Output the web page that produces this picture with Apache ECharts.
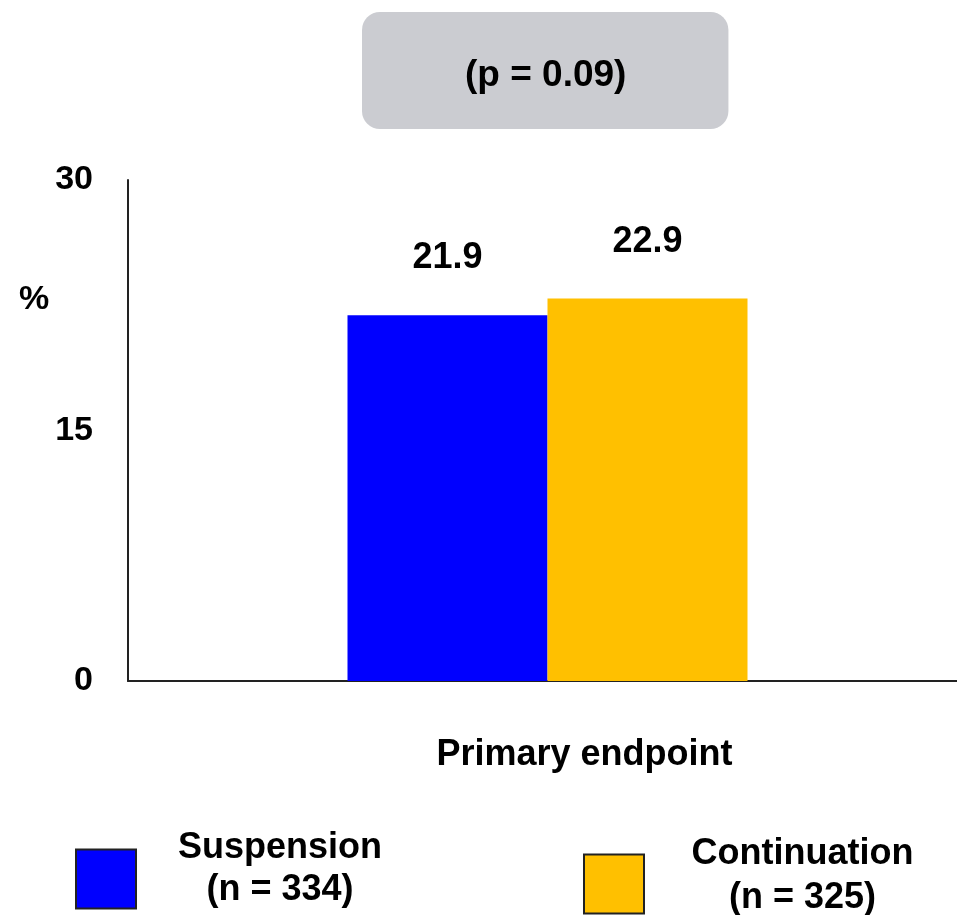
<!DOCTYPE html>
<html>
<head>
<meta charset="utf-8">
<script src="https://cdn.jsdelivr.net/npm/echarts@6/dist/echarts.min.js"></script>
<style>html,body{margin:0;padding:0;background:#fff}#c{width:957px;height:915px}</style>
</head>
<body>
<div id="c"></div>
<script>
var categories = ['Primary endpoint'];
var seriesNames = ['Suspension', 'Continuation'];
var seriesN = ['(n = 334)', '(n = 325)'];
var suspensionValues = [21.9];
var continuationValues = [22.9];
var yTicks = [0, 15, 30];
var pValueText = '(p = 0.09)';
var yUnit = '%';

var FONT = '"Liberation Sans", Arial, sans-serif';
var chart = echarts.init(document.getElementById('c'));
chart.setOption({
  animation: false,
  backgroundColor: '#fff',
  title: [
    {
      text: pValueText, left: 362, top: 12,
      backgroundColor: '#cbccd1', borderRadius: 18,
      padding: [45, 102, 35, 103],
      textStyle: {fontFamily: FONT, fontSize: 37, fontWeight: 'bold', color: '#000'}
    },
    {
      text: yUnit, left: 19, top: 283, padding: 0,
      textStyle: {fontFamily: FONT, fontSize: 34, fontWeight: 'bold', color: '#000'}
    }
  ],
  grid: {left: 128, width: 839, top: 180, bottom: 234, containLabel: false, outerBoundsMode: 'none'},
  legend: [
    {
      data: [seriesNames[0]], left: 75, top: 830, padding: 0,
      itemWidth: 60, itemHeight: 59, icon: 'rect',
      itemStyle: {borderColor: '#222', borderWidth: 2},
      formatter: function (name) { return '{a|' + name + '}\n{a|' + seriesN[0] + '}'; },
      textStyle: {
        rich: {a: {fontFamily: FONT, fontSize: 36, fontWeight: 'bold', color: '#000', width: 208, align: 'center', lineHeight: 42}},
        padding: [0, 0, 20, 35]
      }
    },
    {
      data: [seriesNames[1]], left: 583, top: 836, padding: 0,
      itemWidth: 60, itemHeight: 59, icon: 'rect',
      itemStyle: {borderColor: '#222', borderWidth: 2},
      formatter: function (name) { return '{a|' + name + '}\n{a|' + seriesN[1] + '}'; },
      textStyle: {
        rich: {a: {fontFamily: FONT, fontSize: 36, fontWeight: 'bold', color: '#000', width: 227, align: 'center', lineHeight: 44}},
        padding: [0, 0, 16, 40]
      }
    }
  ],
  xAxis: {
    type: 'category', data: categories,
    axisLine: {lineStyle: {color: '#222', width: 2}},
    axisTick: {show: false},
    axisLabel: {fontFamily: FONT, fontSize: 36, fontWeight: 'bold', color: '#000', margin: 56, padding: [0, 0, 0, 74]}
  },
  yAxis: {
    type: 'value', min: yTicks[0], max: yTicks[yTicks.length - 1], interval: yTicks[1] - yTicks[0],
    axisLine: {show: true, lineStyle: {color: '#222', width: 2}},
    axisTick: {show: false},
    splitLine: {show: false},
    axisLabel: {fontFamily: FONT, fontSize: 34, fontWeight: 'bold', color: '#000', margin: 35}
  },
  series: [
    {
      name: seriesNames[0], type: 'bar', data: suspensionValues,
      barWidth: 200, barGap: '0%',
      itemStyle: {color: '#0000ff'},
      label: {show: true, position: 'top', distance: 39, fontFamily: FONT, fontSize: 36, fontWeight: 'bold', color: '#000'}
    },
    {
      name: seriesNames[1], type: 'bar', data: continuationValues,
      barWidth: 200, barGap: '0%',
      itemStyle: {color: '#ffc000'},
      label: {show: true, position: 'top', distance: 38, fontFamily: FONT, fontSize: 36, fontWeight: 'bold', color: '#000'}
    }
  ]
});
</script>
</body>
</html>
